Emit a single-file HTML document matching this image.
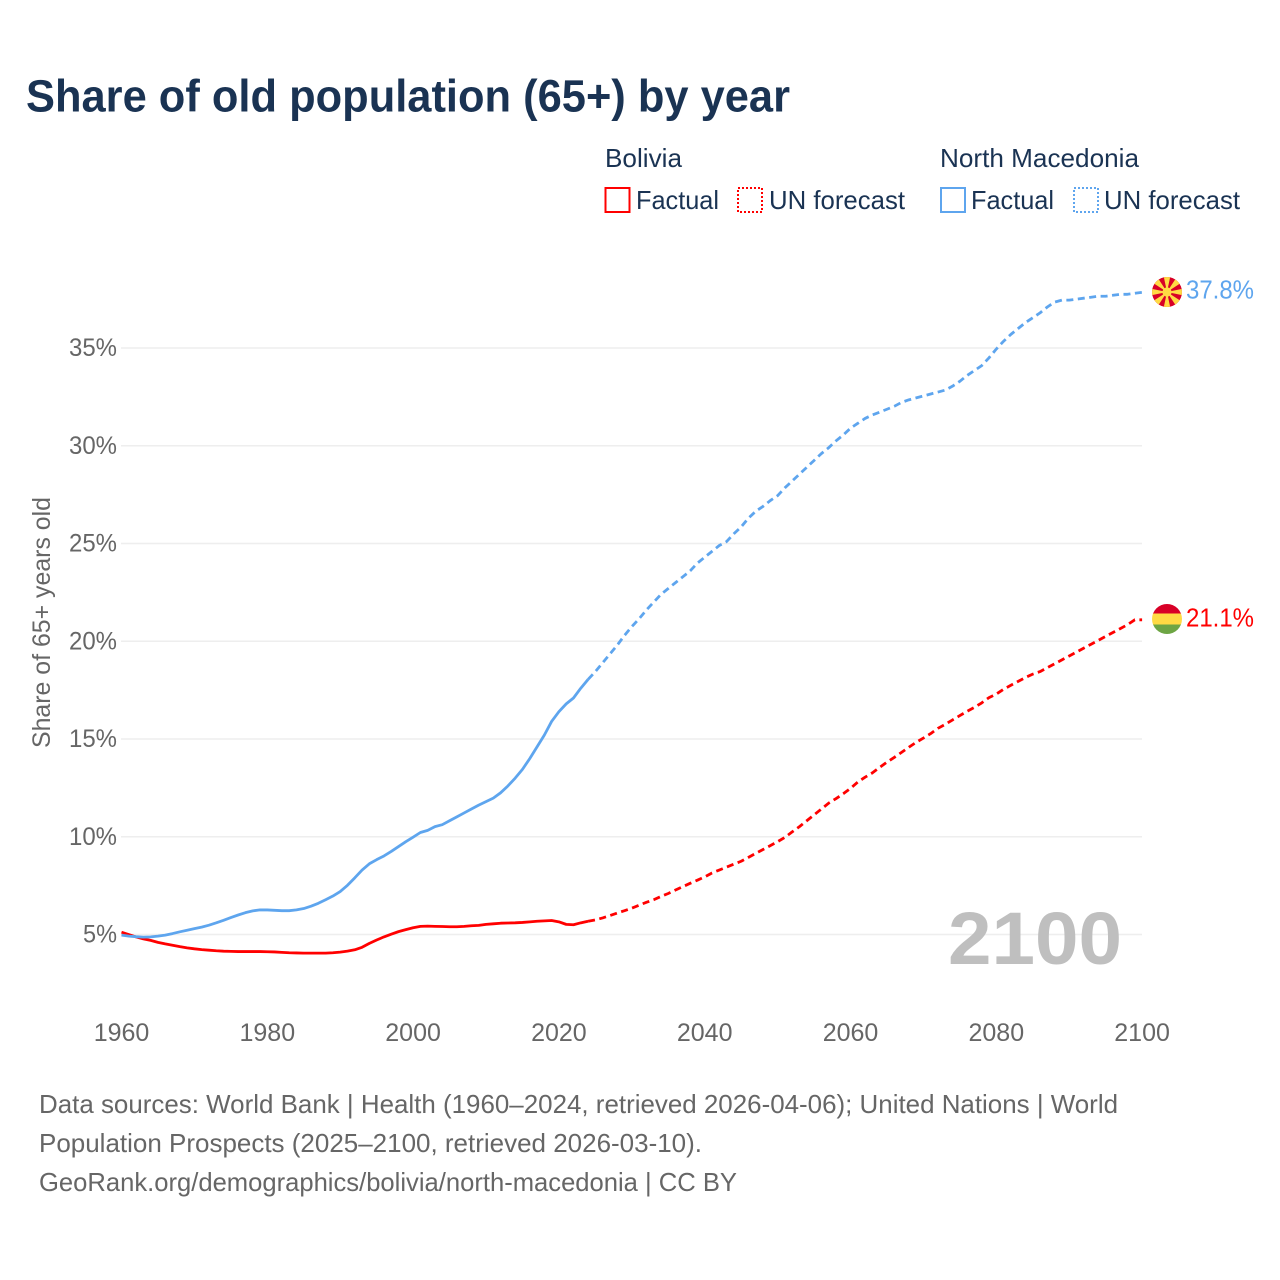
<!DOCTYPE html>
<html lang="en">
<head>
<meta charset="utf-8">
<title>Share of old population (65+) by year</title>
<style>
html,body{margin:0;padding:0;background:#fff;}
svg{display:block;font-family:"Liberation Sans",sans-serif;}
</style>
</head>
<body>
<svg id="chart" xmlns="http://www.w3.org/2000/svg" width="1280" height="1280" viewBox="0 0 1280 1280">
  <rect width="1280" height="1280" fill="#ffffff"/>
  <text x="26" y="111.5" font-size="45" font-weight="700" fill="#1a3353" textLength="764" lengthAdjust="spacingAndGlyphs">Share of old population (65+) by year</text>

  <g font-size="26" fill="#1a3353">
    <text x="605" y="167" textLength="77" lengthAdjust="spacingAndGlyphs">Bolivia</text>
    <rect x="605.5" y="188" width="24" height="24" fill="none" stroke="#ff0000" stroke-width="2"/>
    <text x="636" y="209" textLength="83" lengthAdjust="spacingAndGlyphs">Factual</text>
    <rect x="738" y="188" width="24" height="24" fill="none" stroke="#ff0000" stroke-width="2" stroke-dasharray="2 2"/>
    <text x="769" y="209" textLength="136" lengthAdjust="spacingAndGlyphs">UN forecast</text>
    <text x="940" y="167" textLength="199" lengthAdjust="spacingAndGlyphs">North Macedonia</text>
    <rect x="941" y="188" width="24" height="24" fill="none" stroke="#5ea5ee" stroke-width="2"/>
    <text x="971" y="209" textLength="83" lengthAdjust="spacingAndGlyphs">Factual</text>
    <rect x="1074" y="188" width="24" height="24" fill="none" stroke="#5ea5ee" stroke-width="2" stroke-dasharray="2 2"/>
    <text x="1104" y="209" textLength="136" lengthAdjust="spacingAndGlyphs">UN forecast</text>
  </g>

  <g id="grid"></g>
  <g id="yticks" font-size="25" fill="#666666" text-anchor="end"></g>
  <g id="xticks" font-size="25" fill="#666666" text-anchor="middle"></g>
  <text transform="translate(50,748) rotate(-90)" font-size="25" fill="#666666" textLength="251" lengthAdjust="spacingAndGlyphs">Share of 65+ years old</text>
  <text x="948" y="964" font-size="74" font-weight="700" fill="#bfbfbf" textLength="174" lengthAdjust="spacingAndGlyphs">2100</text>

  <g id="series" fill="none" stroke-width="2.8" stroke-linejoin="round"></g>

  <defs>
    <clipPath id="clip-mk"><circle cx="1167" cy="292" r="15"/></clipPath>
    <clipPath id="clip-bo"><circle cx="1167" cy="619" r="15"/></clipPath>
  </defs>
  <g clip-path="url(#clip-mk)">
    <rect x="1150" y="275" width="34" height="34" fill="#d80027"/>
    <g id="mk-rays" fill="#ffda44"></g>
    <circle cx="1167" cy="292" r="4.6" fill="#ffda44"/>
  </g>
  <g clip-path="url(#clip-bo)">
    <rect x="1150" y="602" width="34" height="12" fill="#d80027"/>
    <rect x="1150" y="613.5" width="34" height="11" fill="#ffda44"/>
    <rect x="1150" y="624.5" width="34" height="12" fill="#6da544"/>
  </g>
  <text id="label-mk" x="1186" y="298.5" font-size="26" fill="#5ea5ee" textLength="68" lengthAdjust="spacingAndGlyphs"></text>
  <text id="label-bo" x="1186" y="626.5" font-size="26" fill="#ff0000" textLength="68" lengthAdjust="spacingAndGlyphs"></text>

  <g font-size="26" fill="#666666">
    <text x="39" y="1113" textLength="1079" lengthAdjust="spacingAndGlyphs">Data sources: World Bank | Health (1960–2024, retrieved 2026-04-06); United Nations | World</text>
    <text x="39" y="1152" textLength="663" lengthAdjust="spacingAndGlyphs">Population Prospects (2025–2100, retrieved 2026-03-10).</text>
    <text x="39" y="1191" textLength="698" lengthAdjust="spacingAndGlyphs">GeoRank.org/demographics/bolivia/north-macedonia | CC BY</text>
  </g>
</svg>
<script>
const yTickValues = [5, 10, 15, 20, 25, 30, 35];
const xTickValues = [1960, 1980, 2000, 2020, 2040, 2060, 2080, 2100];
const factualStartYear = 1960;
const forecastStartYear = 2024;
const macedoniaFactual = [4.97,4.92,4.89,4.87,4.88,4.92,4.97,5.05,5.14,5.22,5.30,5.38,5.48,5.60,5.73,5.87,6.00,6.12,6.21,6.26,6.26,6.24,6.22,6.22,6.26,6.33,6.45,6.60,6.78,6.97,7.20,7.52,7.90,8.30,8.62,8.83,9.02,9.25,9.50,9.75,9.98,10.22,10.33,10.52,10.62,10.82,11.02,11.22,11.42,11.62,11.80,11.98,12.25,12.60,13.00,13.45,14.00,14.60,15.20,15.90,16.40,16.80,17.10,17.60,18.05];
const macedoniaForecast = [18.05,18.45,18.90,19.35,19.80,20.30,20.75,21.15,21.60,22.00,22.40,22.70,23.00,23.30,23.60,24.00,24.30,24.60,24.90,25.10,25.50,25.85,26.30,26.65,26.90,27.20,27.45,27.85,28.20,28.55,28.90,29.25,29.60,29.90,30.25,30.55,30.90,31.15,31.40,31.58,31.72,31.87,32.02,32.22,32.35,32.45,32.55,32.65,32.75,32.85,33.05,33.30,33.60,33.85,34.10,34.50,34.95,35.35,35.70,36.00,36.30,36.55,36.80,37.10,37.35,37.45,37.45,37.50,37.55,37.60,37.65,37.65,37.70,37.75,37.75,37.80,37.85];
const boliviaFactual = [5.12,5.00,4.88,4.78,4.70,4.60,4.52,4.45,4.38,4.32,4.27,4.23,4.20,4.17,4.15,4.14,4.13,4.13,4.13,4.13,4.12,4.11,4.09,4.07,4.06,4.05,4.05,4.05,4.05,4.07,4.10,4.15,4.22,4.35,4.55,4.72,4.88,5.02,5.15,5.25,5.35,5.42,5.43,5.42,5.41,5.40,5.40,5.42,5.45,5.47,5.52,5.55,5.58,5.59,5.60,5.62,5.65,5.68,5.70,5.72,5.65,5.52,5.50,5.60,5.68];
const boliviaForecast = [5.68,5.75,5.85,5.97,6.10,6.22,6.35,6.50,6.65,6.78,6.95,7.10,7.28,7.45,7.62,7.78,7.95,8.15,8.30,8.45,8.60,8.75,8.95,9.15,9.35,9.55,9.75,9.97,10.25,10.52,10.82,11.12,11.42,11.72,11.95,12.20,12.48,12.80,13.05,13.27,13.55,13.82,14.06,14.32,14.58,14.83,15.05,15.28,15.55,15.75,15.98,16.20,16.42,16.62,16.85,17.12,17.30,17.55,17.75,17.95,18.15,18.32,18.45,18.65,18.85,19.05,19.25,19.45,19.65,19.85,20.05,20.25,20.45,20.65,20.85,21.10,21.10];
const endLabels = ["37.8%", "21.1%"];

const svgNS = "http://www.w3.org/2000/svg";
function xScale(year) { return 121.5 + (year - 1960) * 7.29; }
function yScale(value) { return 1032.3 - value * 19.55; }
function linePath(values, startYear) {
  return values.map(function (v, i) {
    return (i ? "L" : "M") + xScale(startYear + i).toFixed(2) + " " + yScale(v).toFixed(2);
  }).join("");
}

const gridGroup = document.getElementById("grid");
const yGroup = document.getElementById("yticks");
yTickValues.forEach(function (v) {
  const line = document.createElementNS(svgNS, "line");
  
  
  line.setAttribute("x1", 121);
  line.setAttribute("x2", 1142);
  line.setAttribute("y1", yScale(v));
  line.setAttribute("y2", yScale(v));
  line.setAttribute("stroke", "#eeeeee");
  line.setAttribute("stroke-width", "1.5");
  gridGroup.appendChild(line);
  const label = document.createElementNS(svgNS, "text");
  
  
  label.setAttribute("x", 117);
  label.setAttribute("y", yScale(v) + 8);
  label.setAttribute("textLength", v < 10 ? 34 : 48);
  label.setAttribute("lengthAdjust", "spacingAndGlyphs");
  label.textContent = v + "%";
  yGroup.appendChild(label);
});

const xGroup = document.getElementById("xticks");
xTickValues.forEach(function (year) {
  const label = document.createElementNS(svgNS, "text");
  
  
  label.setAttribute("x", xScale(year));
  label.setAttribute("y", 1041);
  label.textContent = year;
  xGroup.appendChild(label);
});

const seriesGroup = document.getElementById("series");
function addLine(values, startYear, color, dashed, name) {
  const p = document.createElementNS(svgNS, "path");
  
  
  p.setAttribute("d", linePath(values, startYear));
  p.setAttribute("stroke", color);
  if (dashed) p.setAttribute("stroke-dasharray", "7 4.5");
  seriesGroup.appendChild(p);
}
addLine(boliviaFactual, factualStartYear, "#ff0000", false, "bolivia-factual-line");
addLine(boliviaForecast, forecastStartYear, "#ff0000", true, "bolivia-forecast-line");
addLine(macedoniaFactual, factualStartYear, "#5ea5ee", false, "north-macedonia-factual-line");
addLine(macedoniaForecast, forecastStartYear, "#5ea5ee", true, "north-macedonia-forecast-line");

document.getElementById("label-mk").textContent = endLabels[0];
document.getElementById("label-bo").textContent = endLabels[1];

const rays = document.getElementById("mk-rays");
for (let i = 0; i < 8; i++) {
  const ray = document.createElementNS(svgNS, "polygon");
  
  
  ray.setAttribute("points", "1167,292 1163.2,274 1170.8,274");
  ray.setAttribute("transform", "rotate(" + (i * 45) + " 1167 292)");
  rays.appendChild(ray);
}
</script>
</body>
</html>
